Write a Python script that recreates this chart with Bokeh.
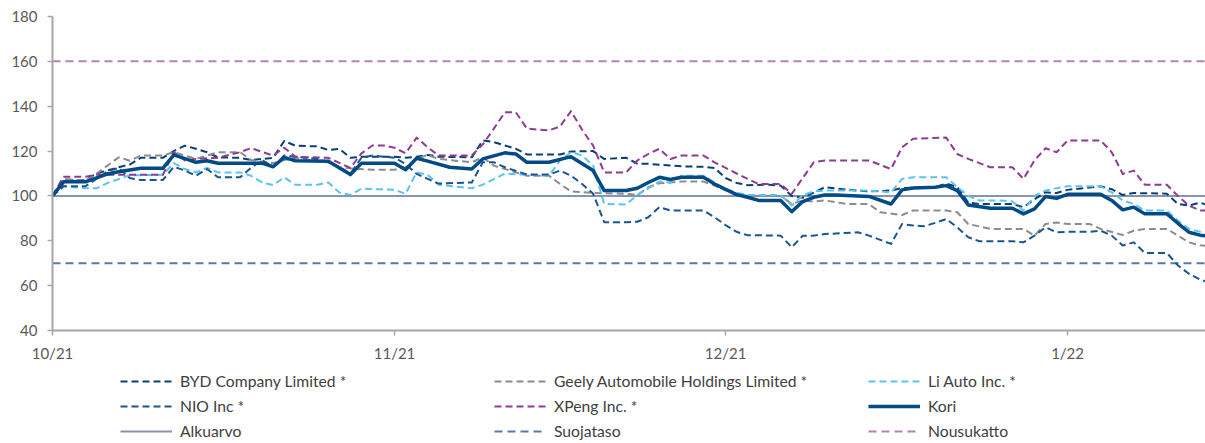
import datetime as dt
from bokeh.plotting import figure
from bokeh.layouts import column
from bokeh.models import Range1d, FixedTicker, Legend, LegendItem
from bokeh.embed import file_html
from bokeh.resources import INLINE

# ---------------- data ----------------
start_date = dt.datetime(2021, 10, 1)
x_end_days = 104.5

x_tick_dates = [dt.datetime(2021, 10, 1), dt.datetime(2021, 11, 1),
                dt.datetime(2021, 12, 1), dt.datetime(2022, 1, 1)]
x_tick_labels = ["10/21", "11/21", "12/21", "1/22"]
y_ticks = [40, 60, 80, 100, 120, 140, 160, 180]

# (day offset from 1.10.2021, index value)
byd = [(0,100),(1,107),(3,107),(4,110),(6,112.8),(7,114),(8,117),(10,117),(11,120),(12,122.4),(13,121),(14,119.5),(15,117.2),(17,117),(18,116),(20,117),(21,124.5),(22,122.4),(24,122.1),(25,120.5),(26,121),(27,117),(28,117.5),(31,117.5),(32,117),(33,117.5),(34,118.3),(35,117.5),(38,117.2),(39,124.7),(40,124),(42,121),(43,118.5),(46,118.5),(47,119.8),(49,120),(50,116.5),(52,117),(53,114.4),(54,114.3),(57,113.2),(59,113),(60,112.5),(61,108),(62,105.8),(63,104.8),(65,105),(66,104.6),(67,100),(68,99.2),(69,101.5),(70,103.9),(72,102.8),(74,102),(76,102.4),(77,103.5),(80,104),(81,105.5),(82,104),(83,97),(84,96.4),(87,96.4),(88,95),(89,98.5),(90,101.6),(91,101.3),(92,102.7),(95,104.3),(96,103),(97,100.4),(98,101.3),(101,101),(102,96.4),(103,95.7),(104,97),(105,95.5)]
geely = [(0,100),(1,107.6),(3,106.8),(4,110),(6,117.2),(7,115.7),(8,118),(10,118),(11,119.5),(13,116.5),(15,119.5),(17,119.5),(18,116),(20,114.6),(21,116),(22,117),(24,115.5),(25,115),(26,112.8),(27,112.3),(29,111.7),(31,111.7),(32,112.8),(33,116.5),(34,118.3),(35,116.5),(38,115),(39,117.2),(40,113.5),(41,112),(43,109),(45,109),(46,105.3),(47,102),(49,101.3),(52,101),(53,100.4),(54,103.9),(55,105.6),(57,106.4),(59,106.4),(60,104.6),(61,102.5),(62,101),(63,100),(66,100),(67,96.4),(68,98),(69,97.5),(70,98),(72,96.4),(74,96.4),(75,92.7),(77,91.5),(78,93.5),(81,93.5),(82,92.7),(83,87.5),(85,85.3),(88,85.3),(89,82.3),(90,87.5),(91,88.2),(92,87.5),(94,87.5),(95,85.3),(97,82.6),(98,84.5),(99,85.3),(101,85.3),(102,82.3),(103,79.3),(104,78),(105,77.5)]
li_auto = [(0,100),(1,104.3),(3,103.5),(4,103.4),(5,105.8),(7,109.2),(10,109.4),(11,114.6),(12,112),(13,110.5),(14,112.5),(15,110.5),(17,110.5),(18,109),(19,106),(20,104.8),(21,108.3),(22,105),(24,105),(25,106),(26,101.5),(27,100.4),(28,103.2),(31,102.8),(32,100.9),(33,110.5),(34,109.4),(35,105),(38,103.4),(39,105),(41,110),(43,109.4),(45,109),(46,115.8),(47,119.5),(48,118),(49,113.5),(50,96.4),(52,96.2),(53,100.4),(55,106.4),(56,106),(57,109),(59,109),(60,106),(61,103),(62,101.5),(63,100.4),(66,100.4),(67,95.7),(68,100.4),(69,102),(70,102.4),(74,102.4),(76,101.6),(77,107.6),(78,108.3),(81,108.3),(82,104),(83,100),(84,98),(86,98),(87,97.5),(88,93.5),(89,100),(90,102.4),(91,103.4),(92,104.3),(95,104.3),(96,101.6),(97,98),(98,96.4),(99,93.5),(101,93.5),(102,89),(103,85.3),(104,84),(105,83.5)]
nio = [(0,100),(1,104.3),(3,104.3),(5,111),(6,112.5),(7,108),(8,107.1),(10,107.1),(11,113),(12,111.3),(13,109),(14,112),(15,108.3),(17,108.3),(18,112.6),(19,116),(20,113),(21,118),(22,117.5),(24,116.5),(25,115),(26,113),(27,110),(28,117),(29,118),(31,117),(32,114.3),(33,109.8),(34,107.6),(35,105.5),(38,106),(39,115),(40,115),(41,112.8),(43,109.5),(45,109.5),(46,111.3),(47,109),(48,105.3),(49,101),(50,88.3),(52,88.3),(53,88.5),(54,90.5),(55,95),(56,93.5),(59,93.5),(60,90.5),(61,87),(62,84),(63,82.5),(66,82.3),(67,77.1),(68,82.3),(69,82.3),(70,83),(73,83.8),(74,82.3),(76,78.6),(77,87.5),(78,86.8),(79,86.5),(80,88),(81,89.7),(82,86),(83,81.6),(84,79.8),(87,79.8),(88,79.3),(89,82.3),(90,86),(91,83.8),(92,84),(94,84),(95,84.5),(96,82.3),(97,77.9),(98,79.3),(99,74.6),(101,74.6),(102,69),(103,65.3),(104,62.8),(105,61)]
xpeng = [(0,100),(1,108.6),(3,108.6),(4,109.4),(10,109.4),(11,119.5),(12,115.8),(13,116.5),(15,117),(17,119.5),(18,121.3),(20,118),(21,121.5),(22,117.5),(25,117),(27,112.5),(28,119),(29,122.5),(30,122.5),(31,121.5),(32,119),(33,126),(34,121.7),(35,118),(38,118),(39,123),(40,130),(41,137.3),(42,137.3),(43,130),(45,129.2),(46,131),(47,137.8),(48,129.5),(49,122.4),(50,110.5),(52,110.5),(53,115.8),(54,118.7),(55,121),(56,116.5),(57,118),(59,118),(60,115),(61,112.5),(62,110),(63,107.6),(64,105.3),(66,105.3),(67,100.9),(68,108),(69,115),(70,115.8),(74,115.8),(76,112),(77,121.7),(78,125.5),(81,126),(82,118.7),(83,116.5),(85,112.8),(87,112.8),(88,107.6),(89,115.8),(90,121.3),(91,119.5),(92,124.7),(95,124.7),(96,119.5),(97,109.8),(98,111.3),(99,105),(101,105),(102,100),(103,95.7),(104,93.5),(105,93.5)]
kori = [(0,100),(1,106.3),(3,106.3),(5,109.8),(6,110.8),(8,112.3),(10,112.3),(11,118.3),(13,115),(14,115.7),(15,114.6),(19,114.6),(20,113),(21,117.2),(22,115.7),(25,115.5),(27,109.5),(28,114.6),(31,114.6),(32,111.7),(33,116.8),(34,115.5),(36,112.8),(38,112),(39,116.5),(41,119.2),(42,118.7),(43,115),(45,115),(47,117.5),(49,111.3),(50,102.4),(52,102.4),(53,103.4),(54,106),(55,108.3),(56,107.3),(57,108.3),(59,108.3),(60,105.3),(62,100.6),(63,99.4),(64,98),(66,98),(67,93),(68,97.5),(69,99.4),(70,100.4),(71,100.4),(74,99.8),(76,96.4),(77,102.7),(78,103.5),(80,103.9),(81,104.6),(82,102.4),(83,96),(85,94.5),(87,94.5),(88,92),(89,94.2),(90,99.7),(91,98.9),(92,100.7),(95,100.7),(96,98),(97,93.8),(98,95),(99,92),(101,92),(102,87.8),(103,83.8),(104,82.5),(105,82)]

alkuarvo = 100
suojataso = 70
nousukatto = 160
level_days = [0, 105]

series_names = ["BYD Company Limited *", "Geely Automobile Holdings Limited *",
                "Li Auto Inc. *", "NIO Inc *", "XPeng Inc. *", "Kori"]
level_names = ["Alkuarvo", "Suojataso", "Nousukatto"]

# ---------------- styles ----------------
FONT = "Lato"
TICK_COL = "#595959"
series_styles = [
    ("#0a3f75", 2, "7 4"),
    ("#8c8c8c", 2, "7 4"),
    ("#5cc3ee", 2, "7 4"),
    ("#1a5592", 2, "7 4"),
    ("#8e3b91", 2, "7 4"),
    ("#004a86", 3.5, "solid"),
]
level_styles = [
    ("#8a93ae", 2, "solid"),
    ("#5b77ae", 2, "8 5"),
    ("#b482b4", 2, "8 5"),
]

def to_dates(days):
    return [start_date + dt.timedelta(days=d) for d in days]

# ---------------- main plot ----------------
W, H1, H2 = 1205, 365, 78
p = figure(width=W, height=H1, output_backend="svg", toolbar_location=None,
           x_axis_type="datetime",
           x_range=Range1d(start_date, start_date + dt.timedelta(days=x_end_days)),
           y_range=Range1d(40, 180),
           min_border_left=52, min_border_right=0, min_border_top=16,
           min_border_bottom=35)
p.outline_line_color = None
p.grid.visible = False

for ax in (p.xaxis[0], p.yaxis[0]):
    ax.axis_line_color = "#a6a6a6"
    ax.axis_line_width = 2
    ax.major_tick_line_color = "#a6a6a6"
    ax.major_tick_line_width = 1.5
    ax.major_tick_in = 0
    ax.major_tick_out = 5
    ax.minor_tick_line_color = None
    ax.major_label_text_font = FONT
    ax.major_label_text_font_size = "15px"
    ax.major_label_text_color = TICK_COL

p.yaxis.ticker = FixedTicker(ticks=y_ticks)
p.yaxis.major_label_standoff = 10
tick_ms = [(d - dt.datetime(1970, 1, 1)).total_seconds() * 1000 for d in x_tick_dates]
p.xaxis.ticker = FixedTicker(ticks=tick_ms)
p.xaxis.major_label_overrides = {t: lab for t, lab in zip(tick_ms, x_tick_labels)}
p.xaxis.major_label_standoff = 8

lev_x = to_dates(level_days)
for lvl, (col, lw, dash) in zip([alkuarvo, suojataso, nousukatto], level_styles):
    p.line(lev_x, [lvl] * 2, line_color=col, line_width=lw, line_dash=dash)

for data, (col, lw, dash) in zip([byd, geely, li_auto, nio, xpeng, kori], series_styles):
    xs = to_dates([d for d, _ in data])
    ys = [v for _, v in data]
    p.line(xs, ys, line_color=col, line_width=lw, line_dash=dash, line_join="round")

# ---------------- legend strip ----------------
lp = figure(width=W, height=H2, output_backend="svg", toolbar_location=None,
            x_range=Range1d(0, 1), y_range=Range1d(0, 1),
            x_axis_location=None, y_axis_location=None,
            min_border_left=0, min_border_right=0, min_border_top=0, min_border_bottom=0)
lp.outline_line_color = None
lp.grid.visible = False

names = series_names + level_names
styles = series_styles + level_styles
nan = float("nan")
proxies = [lp.line([nan, nan], [nan, nan], line_color=c, line_width=w, line_dash=d)
           for c, w, d in styles]

for row in range(3):
    items = [LegendItem(label=names[row * 3 + k], renderers=[proxies[row * 3 + k]])
             for k in range(3)]
    lg = Legend(items=items, location=(68, 50 - 25 * row), orientation="horizontal")
    lg.padding = 0
    lg.margin = 0
    lg.spacing = 1
    lg.glyph_width = 52
    lg.glyph_height = 24
    lg.label_height = 24
    lg.label_width = 313
    lg.label_standoff = 8
    lg.label_text_font = FONT
    lg.label_text_font_size = "15.7px"
    lg.label_text_color = "#404040"
    lg.background_fill_alpha = 0
    lg.border_line_alpha = 0
    lp.add_layout(lg, "center")

layout = column(p, lp, spacing=0)
open("out.html", "w").write(file_html(layout, INLINE))
